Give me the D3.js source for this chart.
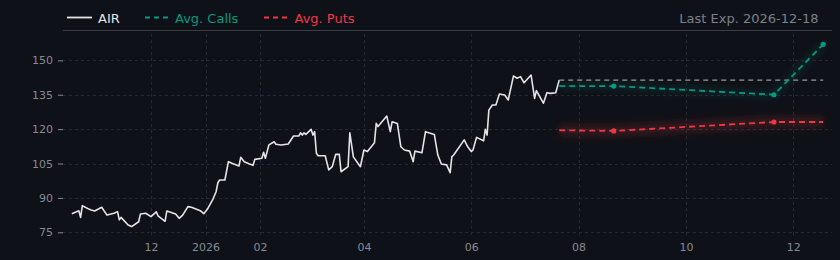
<!DOCTYPE html>
<html>
<head>
<meta charset="utf-8">
<script src="https://cdn.jsdelivr.net/npm/d3@7"></script>
<style>
  html, body { margin: 0; padding: 0; background: #0e1117; }
  svg { display: block; }
  text { font-family: "DejaVu Sans", sans-serif; }
</style>
</head>
<body>
<div id="chart"></div>
<script>
// price history
var stockDates = ["2025-10-17","2025-10-21","2025-10-22","2025-10-23","2025-10-27","2025-10-28","2025-10-30","2025-11-03","2025-11-06","2025-11-10",
  "2025-11-12","2025-11-13","2025-11-14","2025-11-18","2025-11-20","2025-11-24","2025-11-25","2025-11-28","2025-12-01","2025-12-04",
  "2025-12-05","2025-12-09","2025-12-10","2025-12-15","2025-12-17","2025-12-19","2025-12-22","2025-12-24","2025-12-29","2025-12-31",
  "2026-01-02","2026-01-05","2026-01-07","2026-01-08","2026-01-09","2026-01-12","2026-01-14","2026-01-16","2026-01-20","2026-01-21",
  "2026-01-23","2026-01-26","2026-01-28","2026-01-29","2026-02-02","2026-02-03","2026-02-04","2026-02-06","2026-02-09","2026-02-10",
  "2026-02-13","2026-02-17","2026-02-20","2026-02-23","2026-02-24","2026-02-25","2026-02-26","2026-02-27","2026-03-02","2026-03-03",
  "2026-03-04","2026-03-05","2026-03-06","2026-03-10","2026-03-12","2026-03-14","2026-03-16","2026-03-18","2026-03-19","2026-03-23",
  "2026-03-24","2026-03-26","2026-03-30","2026-04-01","2026-04-03","2026-04-07","2026-04-08","2026-04-09","2026-04-14","2026-04-16",
  "2026-04-17","2026-04-20","2026-04-22","2026-04-24","2026-04-27","2026-04-29","2026-04-30","2026-05-04","2026-05-06","2026-05-11",
  "2026-05-13","2026-05-15","2026-05-18","2026-05-20","2026-05-21","2026-05-22","2026-05-28","2026-05-30","2026-06-01","2026-06-02",
  "2026-06-04","2026-06-08","2026-06-09","2026-06-10","2026-06-11","2026-06-13","2026-06-15","2026-06-17","2026-06-20","2026-06-22",
  "2026-06-25","2026-06-27","2026-06-29","2026-07-01","2026-07-05","2026-07-07","2026-07-08","2026-07-12","2026-07-14","2026-07-16",
  "2026-07-19","2026-07-21"];
var stockValues = [83.1,84.4,81.5,86.6,85.0,84.7,84.3,85.9,82.5,83.3,
  84.0,80.4,81.5,78.2,77.5,79.6,83.0,83.3,81.8,83.9,
  82.2,79.8,84.3,83.0,81.1,82.5,86.2,85.9,84.4,83.1,
  85.0,89.1,92.7,96.6,97.8,97.8,105.8,105.1,103.9,107.7,
  105.8,104.8,104.2,106.8,107.3,109.9,107.3,113.1,114.5,113.4,
  113.1,113.5,117.0,117.0,118.4,117.4,118.4,117.7,119.9,117.4,
  118.9,109.5,108.4,108.4,102.2,103.6,109.0,109.0,101.4,103.6,
  118.4,107.9,103.6,110.9,110.2,114.1,122.5,121.1,125.7,118.9,
  123.2,122.5,112.3,110.9,110.4,105.8,110.4,109.7,118.9,117.7,
  108.7,104.8,104.4,101.0,108.0,108.7,115.3,112.3,110.2,110.9,
  116.4,114.9,119.9,117.4,128.3,130.5,130.5,135.3,134.9,132.7,
  143.2,142.2,142.9,140.2,143.6,133.4,136.8,131.3,135.9,135.6,
  135.9,141.4];

// expirations: first entry is the last price date
var expiryDates = ["2026-07-21","2026-08-21","2026-11-20","2026-12-18"];
var callValues = [138.8, 138.8, 135.0, 157.0];
var putValues = [119.5, 119.2, 123.1, 123.1];
var lastPrice = 141.4;

var yTicks = [75, 90, 105, 120, 135, 150];
var xTickDates = ["2025-12-01","2026-01-01","2026-02-01","2026-04-01","2026-06-01","2026-08-01","2026-10-01","2026-12-01"];
var xTickLabels = ["12","2026","02","04","06","08","10","12"];

var W = 840, H = 260;
var margin = {left: 63, right: 8, top: 34, bottom: 22};
var parse = d3.timeParse("%Y-%m-%d");

var cTeal = "#089981", cRed = "#f23645", cText = "#868a93", cGrid = "#252932";

var svg = d3.select("#chart").append("svg").attr("width", W).attr("height", H);

var defs = svg.append("defs");
defs.append("filter").attr("id", "blur").attr("x", "-10%").attr("y", "-200%").attr("width", "120%").attr("height", "500%")
  .append("feGaussianBlur").attr("stdDeviation", 3.5);

var x = d3.scaleTime()
  .domain([parse("2025-10-12"), parse("2026-12-23")])
  .range([margin.left, W - margin.right]);
var y = d3.scaleLinear()
  .domain([72.5, 161.5])
  .range([H - margin.bottom, margin.top]);

// header rule
svg.append("line")
  .attr("x1", margin.left).attr("x2", W - margin.right)
  .attr("y1", 30.5).attr("y2", 30.5)
  .attr("stroke", "#3b3e45").attr("stroke-width", 1);

// grid
var grid = svg.append("g");
grid.selectAll(".hg").data(yTicks).enter().append("line")
  .attr("x1", margin.left).attr("x2", W - margin.right)
  .attr("y1", function (d) { return Math.round(y(d)) + 0.5; })
  .attr("y2", function (d) { return Math.round(y(d)) + 0.5; })
  .attr("stroke", cGrid).attr("stroke-dasharray", "3,3");
grid.selectAll(".vg").data(xTickDates).enter().append("line")
  .attr("x1", function (d) { return Math.round(x(parse(d))) + 0.5; })
  .attr("x2", function (d) { return Math.round(x(parse(d))) + 0.5; })
  .attr("y1", margin.top).attr("y2", H - margin.bottom)
  .attr("stroke", cGrid).attr("stroke-dasharray", "3,3");

// y axis
var yAxis = svg.append("g")
  .attr("transform", "translate(" + margin.left + ",0)")
  .call(d3.axisLeft(y).tickValues(yTicks).tickSize(5).tickPadding(5));
yAxis.select(".domain").remove();
yAxis.selectAll("line").attr("stroke", cText);
yAxis.selectAll("text").attr("fill", cText).style("font-size", "11px").style("font-family", "DejaVu Sans");

// x axis
var xAxis = svg.append("g")
  .attr("transform", "translate(0," + (H - margin.bottom) + ")")
  .call(d3.axisBottom(x).tickValues(xTickDates.map(parse)).tickSize(0).tickPadding(5)
    .tickFormat(function (d, i) { return xTickLabels[i]; }));
xAxis.select(".domain").remove();
xAxis.selectAll("text").attr("fill", cText).style("font-size", "11px").style("font-family", "DejaVu Sans");

// price line
var stock = stockDates.map(function (d, i) { return {date: parse(d), value: stockValues[i]}; });
var line = d3.line().x(function (d) { return x(d.date); }).y(function (d) { return y(d.value); });

svg.append("path").datum(stock)
  .attr("d", line)
  .attr("fill", "none").attr("stroke", "#e4e4e4").attr("stroke-width", 1.6)
  .attr("stroke-linejoin", "round");

// last price reference
var lastDate = parse(expiryDates[0]);
var endDate = parse(expiryDates[expiryDates.length - 1]);
svg.append("line")
  .attr("x1", x(lastDate)).attr("x2", x(endDate))
  .attr("y1", y(lastPrice)).attr("y2", y(lastPrice))
  .attr("stroke", "#9a9a9a").attr("stroke-width", 1.2).attr("stroke-dasharray", "5,4");

function drawSeries(values, color, glowW) {
  var pts = expiryDates.map(function (d, i) { return {date: parse(d), value: values[i]}; });
  svg.append("path").datum(pts)
    .attr("d", line).attr("fill", "none")
    .attr("stroke", color).attr("stroke-width", glowW).attr("stroke-opacity", 0.16)
    .attr("filter", "url(#blur)");
  svg.append("path").datum(pts)
    .attr("d", line).attr("fill", "none")
    .attr("stroke", color).attr("stroke-width", 1.8).attr("stroke-dasharray", "6,4");
  return pts;
}

var callPts = drawSeries(callValues, cTeal, 6);
var putPts = drawSeries(putValues, cRed, 12);

svg.selectAll(".cdot").data(callPts.slice(1)).enter().append("circle")
  .attr("cx", function (d) { return x(d.date); })
  .attr("cy", function (d) { return y(d.value); })
  .attr("r", 2.6).attr("fill", cTeal);
svg.selectAll(".pdot").data(putPts.slice(1, 3)).enter().append("circle")
  .attr("cx", function (d) { return x(d.date); })
  .attr("cy", function (d) { return y(d.value); })
  .attr("r", 2.6).attr("fill", cRed);

// legend
var lg = svg.append("g");
lg.append("line").attr("x1", 67).attr("x2", 92).attr("y1", 17.5).attr("y2", 17.5)
  .attr("stroke", "#e4e4e4").attr("stroke-width", 1.8);
lg.append("text").attr("x", 98).attr("y", 22.5).attr("fill", "#e4e4e4").style("font-size", "13px").text("AIR");
lg.append("line").attr("x1", 145).attr("x2", 169).attr("y1", 17.5).attr("y2", 17.5)
  .attr("stroke", cTeal).attr("stroke-width", 1.8).attr("stroke-dasharray", "5,4");
lg.append("text").attr("x", 175).attr("y", 22.5).attr("fill", cTeal).style("font-size", "13px").text("Avg. Calls");
lg.append("line").attr("x1", 264).attr("x2", 288).attr("y1", 17.5).attr("y2", 17.5)
  .attr("stroke", cRed).attr("stroke-width", 1.8).attr("stroke-dasharray", "5,4");
lg.append("text").attr("x", 294.5).attr("y", 22.5).attr("fill", cRed).style("font-size", "13px").text("Avg. Puts");

svg.append("text").attr("x", 818.5).attr("y", 22.5).attr("text-anchor", "end")
  .attr("fill", "#7c8089").style("font-size", "13px").text("Last Exp. 2026-12-18");
</script>
</body>
</html>
